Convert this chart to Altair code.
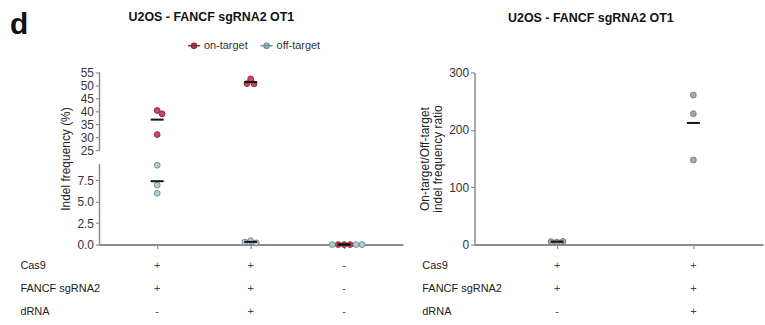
import math
import altair as alt
import pandas as pd

FONT = "Liberation Sans"
TITLE = "U2OS - FANCF sgRNA2 OT1"

# ---------------- data ----------------
series_names = ["on-target", "off-target"]
on_target = [[40.3, 39.0, 31.0], [52.5, 50.6, 50.7], [0.0, 0.0, 0.0]]
off_target = [[9.26, 6.94, 5.98], [0.45, 0.20, 0.30], [0.0, 0.0, 0.0]]
ratio = [[4.4, 5.6, 5.2], [260.6, 228.0, 147.4]]
rows = ["Cas9", "FANCF sgRNA2", "dRNA"]
signs_left = [["+", "+", "-"], ["+", "+", "-"], ["-", "+", "-"]]
signs_right = [["+", "+"], ["+", "+"], ["-", "+"]]
bottom_ticks = [0, 2.5, 5, 7.5]
top_ticks = [25, 30, 35, 40, 45, 50, 55]
right_ticks = [0, 100, 200, 300]
axis_segments = [[0, 9.4], [25, 55]]   # broken y axis: lower and upper segment

# ---------------- layout ----------------
LW, RW = 305, 290
TOP_H, BOT_H, GAP, TAB_H = 78, 81, 14, 69
LH = TOP_H + GAP + BOT_H
RH = LH
R_DOM = [0, 300]
LX_DOM = [-0.617, 2.628]
RX_DOM = [-0.606, 1.511]
# piecewise y scale for the broken axis
Y_DOM = [axis_segments[0][0], axis_segments[0][1], axis_segments[1][0], axis_segments[1][1]]
Y_RANGE = [LH, TOP_H + GAP, TOP_H, 0]

ON_FILL, OFF_FILL = "#c64a62", "#b3ccd4"
ON_STROKE, OFF_STROKE = "#8e2a40", "#6f909d"
GRAY_FILL, GRAY_STROKE = "#a9a9a9", "#7d7d7d"
AX_GRAY = "#8c8c8c"


def swarm(values, px_per_unit, d=6.0):
    placed, out = [], []
    for v in values:
        py = v * px_per_unit
        cands = [0.0]
        for pdx, ppy in placed:
            dy = abs(py - ppy)
            if dy < d:
                w = math.sqrt(d * d - dy * dy)
                cands += [pdx + w, pdx - w]
        cands.sort(key=abs)
        chosen = cands[-1]
        for c in cands:
            if all((c - pdx) ** 2 + (py - ppy) ** 2 >= d * d - 1e-6 for pdx, ppy in placed):
                chosen = c
                break
        placed.append((chosen, py))
        out.append(chosen)
    return out


recs = []
for g in range(3):
    for s, arr in zip(series_names, [on_target, off_target]):
        vals = arr[g]
        seg = "top" if sum(vals) / len(vals) >= axis_segments[1][0] else "bottom"
        for v in vals:
            recs.append(dict(group=g, series=s, value=v, seg=seg))
df_left = pd.DataFrame(recs)
df_left["xpos"] = df_left["group"].astype(float)
lx_px = LW / (LX_DOM[1] - LX_DOM[0])
for (g, seg), sub in df_left.groupby(["group", "seg"]):
    lo, hi = axis_segments[1] if seg == "top" else axis_segments[0]
    ppu = (TOP_H if seg == "top" else BOT_H) / (hi - lo)
    offs = swarm(list(sub["value"]), ppu)
    df_left.loc[sub.index, "xpos"] = [g + o / lx_px for o in offs]

recs = []
rx_px = RW / (RX_DOM[1] - RX_DOM[0])
for g, vals in enumerate(ratio):
    offs = swarm(vals, RH / (R_DOM[1] - R_DOM[0]))
    for v, o in zip(vals, offs):
        recs.append(dict(group=g, value=v, xpos=g + o / rx_px))
df_right = pd.DataFrame(recs)

df_seg = pd.DataFrame([dict(lo=a, hi=b) for a, b in axis_segments])
df_tab_left = pd.DataFrame(
    [dict(row=r, group=g, sign=signs_left[i][g]) for i, r in enumerate(rows) for g in range(3)]
)
df_tab_right = pd.DataFrame(
    [dict(row=r, group=g, sign=signs_right[i][g]) for i, r in enumerate(rows) for g in range(2)]
)

# ---------------- styles ----------------
ax_common = dict(
    domainColor=AX_GRAY, tickColor=AX_GRAY, labelColor="#333333", labelFont=FONT,
    labelFontSize=12, titleFont=FONT, titleFontSize=12, titleFontWeight="normal",
    titleColor="#222222", grid=False, tickSize=4, tickWidth=1.2,
)
fill_scale = alt.Scale(domain=series_names, range=[ON_FILL, OFF_FILL])
stroke_scale = alt.Scale(domain=series_names, range=[ON_STROKE, OFF_STROKE])
legend = alt.Legend(
    title=None, orient="none", legendX=88, legendY=-34, direction="horizontal",
    symbolType="M-1,0L1,0M0.42,0A0.42,0.42,0,1,1,-0.42,0A0.42,0.42,0,1,1,0.42,0Z",
    symbolSize=150, symbolStrokeWidth=1.5, labelFont=FONT, labelFontSize=11,
    labelColor="#333333", columnPadding=8, labelOffset=3,
)

xs_left = alt.Scale(domain=LX_DOM, nice=False, zero=False)
xs_right = alt.Scale(domain=RX_DOM, nice=False, zero=False)
ys_left = alt.Scale(type="linear", domain=Y_DOM, range=Y_RANGE, nice=False, zero=False)
ys_right = alt.Scale(domain=R_DOM, nice=False, zero=False)

y_axis_left = alt.Axis(
    values=bottom_ticks + top_ticks, domain=False, title="Indel frequency (%)",
    labelExpr="datum.value < 20 ? format(datum.value, '.1f') : format(datum.value, 'd')",
    **ax_common)
x_axis_left = alt.Axis(values=[0, 1, 2], labels=False, title=None, domainWidth=2, **ax_common)
y_axis_right = alt.Axis(values=right_ticks, format="d",
                        title=["On-target/Off-target", "indel frequency ratio"],
                        titleLineHeight=13, domainWidth=1.5, **ax_common)
x_axis_right = alt.Axis(values=[0, 1], labels=False, title=None, domainWidth=2, **ax_common)

# ---------------- left panel ----------------
pts_l = alt.Chart(df_left).mark_circle(size=34, opacity=1, strokeWidth=1).encode(
    x=alt.X("xpos:Q", scale=xs_left, axis=x_axis_left),
    y=alt.Y("value:Q", scale=ys_left, axis=y_axis_left),
    fill=alt.Fill("series:N", scale=fill_scale, legend=legend),
    stroke=alt.Stroke("series:N", scale=stroke_scale, legend=legend),
)
mean_l = alt.Chart(df_left).mark_tick(orient="horizontal", color="#111111", size=13,
                                      thickness=2, opacity=1).encode(
    x=alt.X("group:Q", scale=xs_left, axis=x_axis_left),
    y=alt.Y("mean(value):Q", scale=ys_left, axis=y_axis_left),
    detail="series:N",
)
seg_l = alt.Chart(df_seg).mark_rule(color=AX_GRAY, strokeWidth=1.5).encode(
    x=alt.value(0),
    y=alt.Y("lo:Q", scale=ys_left, axis=y_axis_left),
    y2="hi:Q",
)
left_plot = alt.layer(seg_l, pts_l, mean_l).properties(width=LW, height=LH)


def table(df, xs, pad, width):
    return alt.Chart(df).mark_text(font=FONT, fontSize=11, color="#444444").encode(
        x=alt.X("group:Q", scale=xs, axis=None),
        y=alt.Y("row:N", sort=rows, axis=alt.Axis(
            title=None, domain=False, ticks=False, labelAlign="left", labelPadding=pad,
            labelFont=FONT, labelFontSize=11, labelColor="#222222")),
        text="sign:N",
    ).properties(width=width, height=TAB_H)


title_kw = dict(fontSize=12.5, fontWeight="bold", font=FONT, anchor="middle", color="#111111")
left_col = alt.vconcat(
    left_plot, table(df_tab_left, xs_left, 80, LW), spacing=4,
    title=alt.TitleParams(TITLE, offset=15, **title_kw),
).resolve_scale(y="independent", fill="independent", stroke="independent").resolve_legend(
    fill="independent", stroke="independent")

# ---------------- right panel ----------------
pts_r = alt.Chart(df_right).mark_circle(size=34, opacity=1, strokeWidth=1,
                                        fill=GRAY_FILL, stroke=GRAY_STROKE).encode(
    x=alt.X("xpos:Q", scale=xs_right, axis=x_axis_right),
    y=alt.Y("value:Q", scale=ys_right, axis=y_axis_right),
)
mean_r = alt.Chart(df_right).mark_tick(orient="horizontal", color="#111111", size=13,
                                       thickness=2, opacity=1).encode(
    x=alt.X("group:Q", scale=xs_right, axis=x_axis_right),
    y=alt.Y("mean(value):Q", scale=ys_right, axis=y_axis_right),
)
right_plot = alt.layer(pts_r, mean_r).properties(width=RW, height=RH)
right_col = alt.vconcat(
    right_plot, table(df_tab_right, xs_right, 53, RW), spacing=4,
    title=alt.TitleParams(TITLE, offset=42, **title_kw),
).resolve_scale(y="independent")

chart = alt.hconcat(left_col, right_col, spacing=15).resolve_scale(
    x="independent", y="independent"
).properties(
    title=alt.TitleParams("d", anchor="start", fontSize=30, fontWeight="bold", font=FONT,
                          offset=-29, dx=-10, color="#111111"),
    padding={"left": 10, "top": 9, "right": 2, "bottom": 0},
    background="white",
).configure_view(stroke=None)

chart.save("out.html", embed_options={"renderer": "svg", "actions": False})
